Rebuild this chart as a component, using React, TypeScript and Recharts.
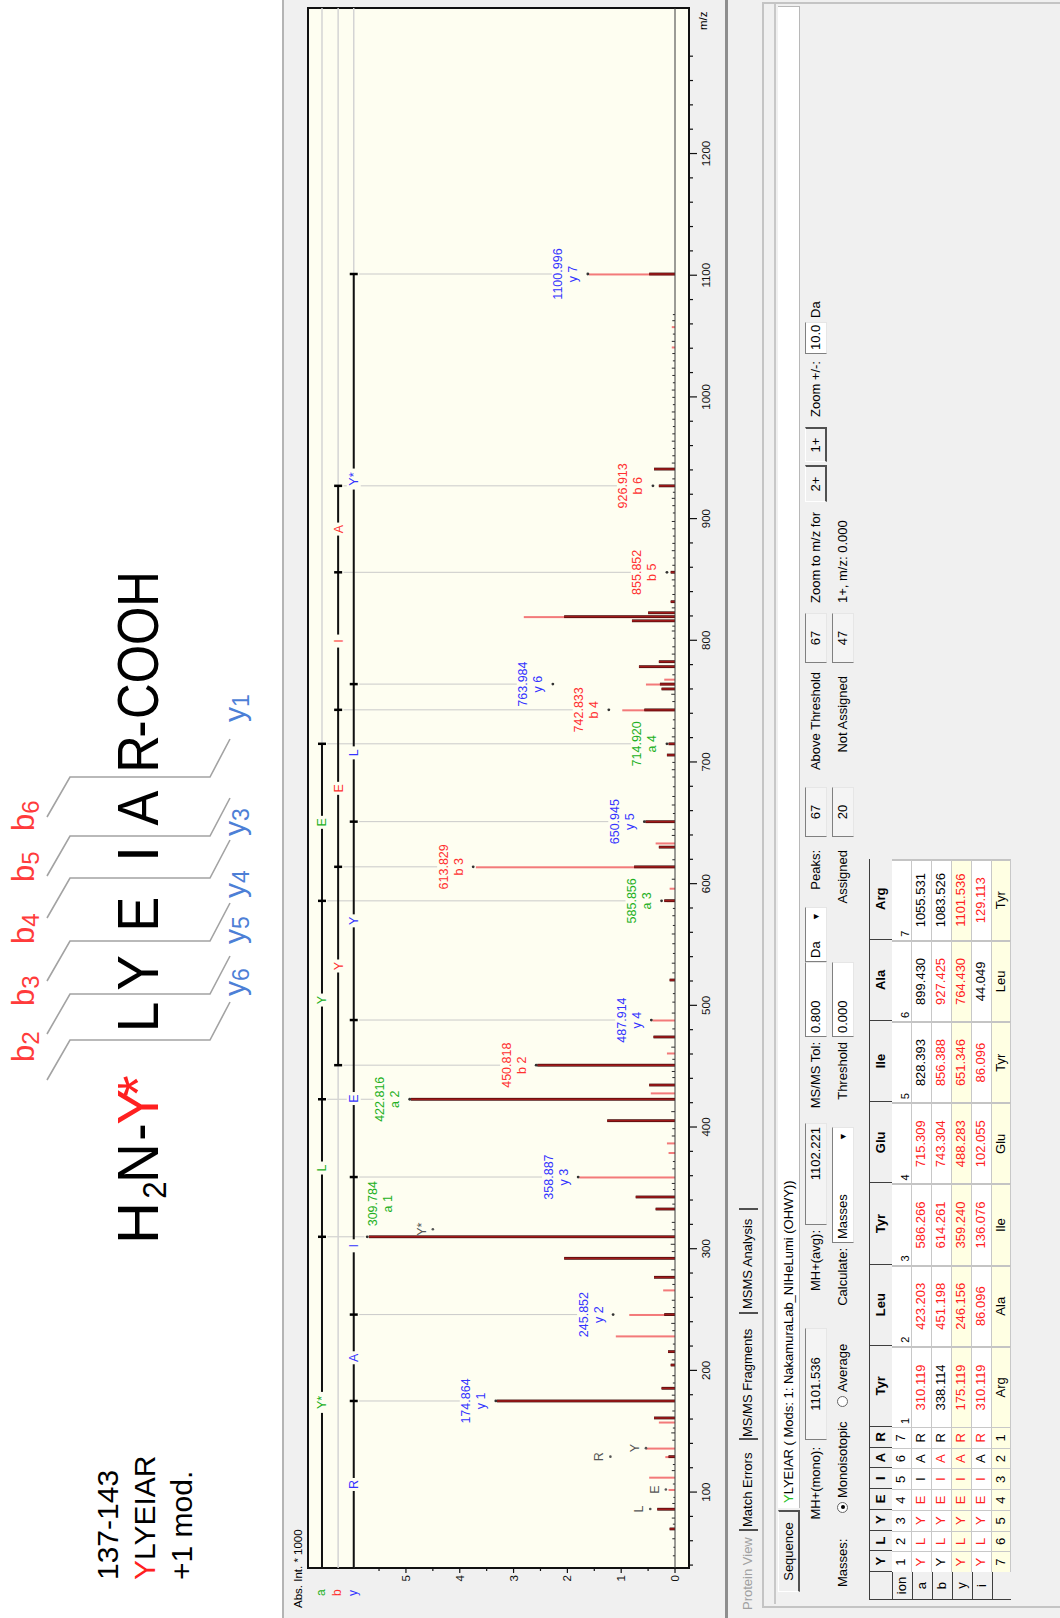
import React from 'react';
import { ComposedChart, Bar, Scatter, XAxis, YAxis, ReferenceLine } from 'recharts';

const FONT = '"Liberation Sans", Arial, sans-serif';
const PLOT_BG = '#fefef1';

// axes
const MZ_DOMAIN: [number, number] = [37.6, 1319.6];
const INT_DOMAIN: [number, number] = [-0.26, 6.82];
const mzMajorTicks = [100, 200, 300, 400, 500, 600, 700, 800, 900, 1000, 1100, 1200];
const mzMinorTicks = Array.from({ length: 64 }, (_, i) => 40 + i * 20).filter((v) => v % 100 !== 0);
const intMajorTicks = [0, 1, 2, 3, 4, 5];
const intMinorTicks = [0.5, 1.5, 2.5, 3.5, 4.5, 5.5];

// peaks [m/z, abs. int * 1000]
const darkPeaks: [number, number][] = [
  [69.7, 0.1], [85.9, 0.33], [129.1, 0.12], [160.9, 0.39], [174.864, 3.31], [185.3, 0.25],
  [204.4, 0.08], [215.4, 0.13], [245.9, 0.2], [276.5, 0.39], [292.1, 2.06], [309.8, 5.69],
  [332.6, 0.36], [342.5, 0.73], [405.2, 1.26], [422.8, 4.91], [434.5, 0.48], [450.8, 2.56],
  [474.0, 0.4], [520.8, 0.1], [586.0, 0.2], [613.8, 0.76], [630.0, 0.3], [650.9, 0.55],
  [705.7, 0.15], [714.9, 0.12], [742.8, 0.57], [760.0, 0.25], [764.0, 0.28], [778.3, 0.67],
  [782.4, 0.3], [816.0, 0.8], [819.4, 2.06], [822.6, 0.5], [831.7, 0.08], [855.9, 0.08],
  [926.9, 0.3], [940.7, 0.39], [1101.0, 0.48],
];
const lightPeaks: [number, number][] = [
  [102.1, 0.12], [112.2, 0.48], [129.1, 0.18], [136.1, 0.54], [157.5, 0.3], [228.3, 1.1],
  [245.9, 0.85], [266.1, 0.22], [358.9, 1.78], [379.0, 0.12], [386.9, 0.15], [428.0, 0.45],
  [460.8, 0.15], [487.9, 0.42], [586.0, 0.15], [596.2, 0.1], [613.8, 3.7], [633.4, 0.36],
  [742.8, 0.98], [764.0, 0.54], [768.0, 0.2], [819.4, 2.81], [1041.0, 0.06], [1057.7, 0.06],
  [1101.0, 1.6],
];
const noisePeaks: [number, number][] = [
  [48, 0.04], [55, 0.03], [62, 0.05], [74, 0.04], [79, 0.06], [91, 0.05], [96, 0.03], [107, 0.04],
  [118, 0.06], [123, 0.04], [143, 0.05], [149, 0.07], [153, 0.04], [167, 0.05], [180, 0.06], [190, 0.04],
  [196, 0.05], [209, 0.06], [222, 0.04], [233, 0.05], [239, 0.07], [252, 0.04], [258, 0.06], [271, 0.05],
  [283, 0.07], [298, 0.06], [304, 0.08], [316, 0.05], [322, 0.06], [337, 0.05], [349, 0.04], [354, 0.06],
  [366, 0.05], [372, 0.04], [393, 0.06], [399, 0.05], [413, 0.07], [441, 0.05], [446, 0.06], [456, 0.05],
  [466, 0.07], [481, 0.05], [494, 0.06], [503, 0.05], [510, 0.04], [527, 0.05], [535, 0.06], [543, 0.04],
  [551, 0.05], [559, 0.06], [566, 0.04], [574, 0.05], [580, 0.04], [604, 0.06], [620, 0.05], [640, 0.06],
  [645, 0.05], [658, 0.04], [665, 0.06], [672, 0.05], [680, 0.04], [688, 0.05], [694, 0.06], [700, 0.05],
  [721, 0.06], [728, 0.05], [735, 0.04], [750, 0.05], [756, 0.07], [772, 0.05], [789, 0.06], [795, 0.05],
  [802, 0.04], [808, 0.06], [812, 0.05], [827, 0.06], [838, 0.05], [845, 0.04], [850, 0.06], [862, 0.05],
  [868, 0.04], [874, 0.06], [880, 0.05], [886, 0.04], [892, 0.05], [898, 0.06], [905, 0.04], [911, 0.05],
  [917, 0.06], [922, 0.04], [933, 0.05], [946, 0.06], [952, 0.05], [958, 0.04], [964, 0.06], [970, 0.05],
  [976, 0.04], [982, 0.05], [988, 0.06], [994, 0.04], [1000, 0.05], [1006, 0.06], [1012, 0.04], [1018, 0.05],
  [1024, 0.06], [1030, 0.04], [1036, 0.05], [1046, 0.06], [1052, 0.04], [1063, 0.05], [1068, 0.04],
];

// assigned fragment ions: label anchor intensity
// (lx / ly: where a label sits when it is set beside its peak)
const ionLabels: { mz: number; ion: string; name: string; at: number; lx?: number; ly?: number }[] = [
  { mz: 174.864, ion: 'y', name: 'y 1', at: 3.33 },
  { mz: 245.852, ion: 'y', name: 'y 2', at: 1.15 },
  { mz: 309.784, ion: 'a', name: 'a 1', at: 5.72, lx: 337, ly: 5.07 },
  { mz: 358.887, ion: 'y', name: 'y 3', at: 1.8 },
  { mz: 422.816, ion: 'a', name: 'a 2', at: 4.93 },
  { mz: 450.818, ion: 'b', name: 'b 2', at: 2.58 },
  { mz: 487.914, ion: 'y', name: 'y 4', at: 0.44 },
  { mz: 585.856, ion: 'a', name: 'a 3', at: 0.25 },
  { mz: 613.829, ion: 'b', name: 'b 3', at: 3.75 },
  { mz: 650.945, ion: 'y', name: 'y 5', at: 0.57 },
  { mz: 714.92, ion: 'a', name: 'a 4', at: 0.15 },
  { mz: 742.833, ion: 'b', name: 'b 4', at: 1.23 },
  { mz: 763.984, ion: 'y', name: 'y 6', at: 2.27 },
  { mz: 855.852, ion: 'b', name: 'b 5', at: 0.15 },
  { mz: 926.913, ion: 'b', name: 'b 6', at: 0.41 },
  { mz: 1100.996, ion: 'y', name: 'y 7', at: 1.62 },
];
const immoniumLabels = [
  { mz: 86.1, text: 'L', at: 0.46 },
  { mz: 102.1, text: 'E', at: 0.17 },
  { mz: 129.1, text: 'R', at: 1.2 },
  { mz: 136.1, text: 'Y', at: 0.54 },
  { mz: 316.0, text: 'Y*', at: 4.5 },
];

// sequence ladders
const aLadder = [309.784, 422.816, 585.856, 714.92];
const aLadderResidues = ['Y*', 'L', 'Y', 'E'];
const bLadder = [450.818, 613.829, 742.833, 855.852, 926.913];
const bLadderResidues = ['Y', 'E', 'I', 'A'];
const yLadder = [174.864, 245.852, 358.887, 487.914, 650.945, 763.984, 1100.996];
const yLadderResidues = ['R', 'A', 'I', 'E', 'Y', 'L', 'Y*'];
const trackLevel: Record<string, number> = { a: 6.56, b: 6.26, y: 5.97 };
const ionColor: Record<string, string> = { a: '#22b022', b: '#ff3030', y: '#3434ff' };

// fragment table
const residues = ['Y', 'L', 'Y', 'E', 'I', 'A', 'R'];
const residueNames = ['Tyr', 'Leu', 'Tyr', 'Glu', 'Ile', 'Ala', 'Arg'];
const reverseNames = ['Arg', 'Ala', 'Ile', 'Glu', 'Tyr', 'Leu', 'Tyr'];
const aIons = ['310.119', '423.203', '586.266', '715.309', '828.393', '899.430', '1055.531'];
const bIons = ['338.114', '451.198', '614.261', '743.304', '856.388', '927.425', '1083.526'];
const yIons = ['175.119', '246.156', '359.240', '488.283', '651.346', '764.430', '1101.536'];
const iIons = ['310.119', '86.096', '136.076', '102.055', '86.096', '44.049', '129.113'];
const aHit = [1, 1, 1, 1, 0, 0, 0];
const bHit = [0, 1, 1, 1, 1, 1, 0];
const yHit = [1, 1, 1, 1, 1, 1, 1];
const iHit = [1, 1, 1, 1, 1, 0, 1];

const peakRows = (() => {
  const rows = new Map<number, any>();
  const put = (list: [number, number][], key: string) =>
    list.forEach(([mz, v]) => {
      const r = rows.get(mz) ?? { mz };
      r[key] = v;
      rows.set(mz, r);
    });
  put(darkPeaks, 'dark');
  put(lightPeaks, 'light');
  put(noisePeaks, 'noise');
  return [...rows.values()].sort((p, q) => p.mz - q.mz);
})();

const ladderPoints = (start: number | null, ticks: number[], level: number) => [
  ...(start !== null ? [{ mz: start, int: level, tick: false }] : []),
  ...ticks.map((mz) => ({ mz, int: level, tick: true })),
];
const ladderLetters = (start: number | null, ticks: number[], names: string[], level: number, color: string) => {
  const edges = start !== null ? [start, ...ticks] : ticks;
  return names.map((text, i) => ({ mz: (edges[i] + edges[i + 1]) / 2, int: level, text, color }));
};

const letterData = [
  ...ladderLetters(MZ_DOMAIN[0], aLadder, aLadderResidues, trackLevel.a, ionColor.a),
  ...ladderLetters(null, bLadder, bLadderResidues, trackLevel.b, ionColor.b),
  ...ladderLetters(MZ_DOMAIN[0], yLadder, yLadderResidues, trackLevel.y, ionColor.y),
];

const MzTick = (props: any) => {
  const { x, y, payload } = props;
  const v = payload.value;
  const major = v % 100 === 0;
  return (
    <g>
      <line x1={x} x2={x} y1={y} y2={y + (major ? 8 : 4)} stroke="#111" strokeWidth={1.2} />
      {major && (
        <text x={x} y={y + 21} textAnchor="middle" fontSize={11.5} fontFamily={FONT} fill="#111">
          {v}
        </text>
      )}
    </g>
  );
};

const IntTick = (props: any) => {
  const { x, y, payload } = props;
  const v = payload.value;
  const major = Number.isInteger(v);
  return (
    <g>
      <line x1={x - (major ? 5 : 3)} x2={x} y1={y} y2={y} stroke="#111" strokeWidth={1.2} />
      {major && (
        <text x={x - 7} y={y + 4} textAnchor="end" fontSize={11.5} fontFamily={FONT} fill="#111">
          {v}
        </text>
      )}
    </g>
  );
};

// peak sticks: fixed pixel widths, centred on the bar position from the scale
const stick = (w: number, fill: string, edge?: string) => (props: any) => {
  const { x, y, width, height } = props;
  if (![x, y, width, height].every(Number.isFinite) || height <= 0) return <g />;
  const cx = x + width / 2;
  return (
    <g>
      {edge && <rect x={cx - w / 2 - 0.6} y={y} width={w + 1.2} height={height} fill={edge} />}
      <rect x={cx - w / 2} y={y} width={w} height={height} fill={fill} />
    </g>
  );
};
const DarkStick = stick(1.6, '#a01a1a', '#3a0808');
const LightStick = stick(2, '#f37a7a');
const NoiseStick = stick(1, '#2a2a2a');

const NoShape = () => <g />;

const LadderTick = (props: any) => {
  const { cx, cy, payload } = props;
  if (!payload.tick) return <g />;
  return <line x1={cx} x2={cx} y1={cy - 4} y2={cy + 4} stroke="#000" strokeWidth={2.5} />;
};

const LadderLetter = (props: any) => {
  const { cx, cy, payload } = props;
  const w = payload.text.length * 8 + 5;
  return (
    <g>
      <rect x={cx - w / 2} y={cy - 7} width={w} height={14} fill={PLOT_BG} />
      <text x={cx} y={cy + 4.5} textAnchor="middle" fontSize={12.5} fontFamily={FONT} fill={payload.color}>
        {payload.text}
      </text>
    </g>
  );
};

const IonLabel = (props: any) => {
  const { cx, cy, payload } = props;
  const color = ionColor[payload.ion];
  return (
    <g fontFamily={FONT} fontSize={12.5} fill={color}>
      {payload.dot && <circle cx={cx} cy={cy} r={1.4} fill="#333" />}
      <text x={cx} y={cy - 25.5} textAnchor="middle">
        {payload.text}
      </text>
      <text x={cx} y={cy - 10.5} textAnchor="middle">
        {payload.name}
      </text>
    </g>
  );
};

const PeakDot = (props: any) => <circle cx={props.cx} cy={props.cy} r={1.4} fill="#333" />;

const ImmoniumLabel = (props: any) => {
  const { cx, cy, payload } = props;
  return (
    <g fontFamily={FONT} fontSize={12.5} fill="#555">
      <circle cx={cx} cy={cy} r={1.3} fill="#555" />
      <text x={cx} y={cy - 7} textAnchor="middle">
        {payload.text}
      </text>
    </g>
  );
};

const labelData = ionLabels.map((l) => ({
  mz: l.lx ?? l.mz,
  int: l.ly ?? l.at,
  ion: l.ion,
  name: l.name,
  text: l.mz.toFixed(3),
  dot: l.lx === undefined,
}));
const shiftedDots = ionLabels.filter((l) => l.lx !== undefined).map((l) => ({ mz: l.mz, int: l.at }));

const Spectrum = () => (
  <ComposedChart width={1618} height={450} data={peakRows} margin={{ top: 28, right: 8, bottom: 11, left: 10 }}>
    <XAxis xAxisId="light" dataKey="mz" type="number" domain={MZ_DOMAIN} allowDataOverflow hide height={0} />
    <XAxis xAxisId="noise" dataKey="mz" type="number" domain={MZ_DOMAIN} allowDataOverflow hide height={0} />
    <XAxis
      xAxisId="mz"
      dataKey="mz"
      type="number"
      domain={MZ_DOMAIN}
      allowDataOverflow
      ticks={[...mzMinorTicks, ...mzMajorTicks].sort((p, q) => p - q)}
      interval={0}
      tick={MzTick}
      tickLine={false}
      axisLine={false}
      tickSize={0}
      tickMargin={0}
      height={30}
    />
    <YAxis
      type="number"
      domain={INT_DOMAIN}
      allowDataOverflow
      ticks={[...intMajorTicks, ...intMinorTicks].sort((p, q) => p - q)}
      interval={0}
      tick={IntTick}
      tickLine={false}
      axisLine={false}
      tickSize={0}
      tickMargin={0}
      width={40}
    />
    <ReferenceLine xAxisId="mz" y={0} stroke="#3a3a3a" strokeWidth={1} />
    <Bar xAxisId="noise" dataKey="noise" barSize={3} shape={NoiseStick} isAnimationActive={false} />
    <Bar xAxisId="light" dataKey="light" barSize={3} shape={LightStick} isAnimationActive={false} />
    <Bar xAxisId="mz" dataKey="dark" barSize={3} shape={DarkStick} isAnimationActive={false} />

    {(['a', 'b', 'y'] as const).map((k) => (
      <Scatter
        key={`guide-${k}`}
        xAxisId="mz"
        dataKey="int"
        data={[
          { mz: MZ_DOMAIN[0], int: trackLevel[k] },
          { mz: MZ_DOMAIN[1], int: trackLevel[k] },
        ]}
        line={{ stroke: '#d4d4d4', strokeWidth: 1.5 }}
        shape={NoShape}
        isAnimationActive={false}
      />
    ))}

    {ionLabels.map((l) => (
      <ReferenceLine
        key={`conn-${l.name}`}
        xAxisId="mz"
        segment={[
          { x: l.mz, y: trackLevel[l.ion] - 0.1 },
          { x: l.mz, y: l.lx === undefined ? l.at + 0.67 : l.at + 0.05 },
        ]}
        stroke="#cacaca"
        strokeWidth={1}
        ifOverflow="visible"
      />
    ))}

    <Scatter xAxisId="mz" dataKey="int" data={ladderPoints(MZ_DOMAIN[0], aLadder, trackLevel.a)} line={{ stroke: '#111', strokeWidth: 2 }} shape={LadderTick} isAnimationActive={false} />
    <Scatter xAxisId="mz" dataKey="int" data={ladderPoints(null, bLadder, trackLevel.b)} line={{ stroke: '#111', strokeWidth: 2 }} shape={LadderTick} isAnimationActive={false} />
    <Scatter xAxisId="mz" dataKey="int" data={ladderPoints(MZ_DOMAIN[0], yLadder, trackLevel.y)} line={{ stroke: '#111', strokeWidth: 2 }} shape={LadderTick} isAnimationActive={false} />
    <Scatter xAxisId="mz" dataKey="int" data={letterData} shape={LadderLetter} isAnimationActive={false} />
    <Scatter xAxisId="mz" dataKey="int" data={labelData} shape={IonLabel} isAnimationActive={false} />
    <Scatter xAxisId="mz" dataKey="int" data={shiftedDots} shape={PeakDot} isAnimationActive={false} />
    <Scatter xAxisId="mz" dataKey="int" data={immoniumLabels.map((l) => ({ ...l, int: l.at }))} shape={ImmoniumLabel} isAnimationActive={false} />
  </ComposedChart>
);

// peptide fragmentation diagram (landscape coordinates)
const seqPieces = [
  { t: 'H', cx: 395, sx: 1 },
  { t: '2', cx: 428, sx: 0.95, sub: true },
  { t: 'N', cx: 455, sx: 0.95 },
  { t: '-', cx: 486, sx: 0.9 },
  { t: 'Y', cx: 511, sx: 0.92, red: true },
  { t: '*', cx: 532, sx: 0.95, red: true },
  { t: 'L', cx: 601, sx: 0.95 },
  { t: 'Y', cx: 645, sx: 0.92 },
  { t: 'E', cx: 704, sx: 0.9 },
  { t: 'I', cx: 764, sx: 1 },
  { t: 'A', cx: 810, sx: 0.9 },
  { t: 'R', cx: 864, sx: 0.9 },
  { t: '-', cx: 889, sx: 0.9 },
  { t: 'COOH', cx: 973, sx: 0.85 },
];
const cleavageX = [578, 624, 677, 740, 782, 841];
const bDiagram = [
  { n: 2, x: 556 },
  { n: 3, x: 612 },
  { n: 4, x: 674 },
  { n: 5, x: 736 },
  { n: 6, x: 787 },
];
const yDiagram = [
  { n: 6, x: 622 },
  { n: 5, x: 674 },
  { n: 4, x: 720 },
  { n: 3, x: 782 },
  { n: 1, x: 896 },
];

const Peptide = () => (
  <svg width={1100} height={270} style={{ position: 'absolute', left: 0, top: 0 }} fontFamily={FONT}>
    {cleavageX.map((x) => (
      <path key={x} d={`M${x - 40},47 L${x},70 L${x},210 L${x + 38},230`} fill="none" stroke="#a3a3a3" strokeWidth={1.6} />
    ))}
    {seqPieces.map((p, i) => (
      <text
        key={i}
        transform={`translate(${p.cx},${p.sub ? 166 : 158}) scale(${p.sx},1)`}
        textAnchor="middle"
        fontSize={p.sub ? 33 : 58}
        fill={p.red ? '#ff2020' : '#000'}
      >
        {p.t}
      </text>
    ))}
    {bDiagram.map((b) => (
      <text key={`b${b.n}`} x={b.x} y={34} fontSize={31} fill="#ff3b3b">
        b<tspan fontSize={24} dy={5}>{b.n}</tspan>
      </text>
    ))}
    {yDiagram.map((y) => (
      <text key={`y${y.n}`} x={y.x} y={245} fontSize={30} fill="#4d7fd6">
        y<tspan fontSize={23} dy={4}>{y.n}</tspan>
      </text>
    ))}
  </svg>
);

const Lbl = ({ x, w, y, text, align = 'left', color = '#000' }: any) => (
  <div style={{ position: 'absolute', left: x, top: y, width: w, height: 22, lineHeight: '22px', fontSize: 13, textAlign: align, color, whiteSpace: 'nowrap' }}>
    {text}
  </div>
);
const Field = ({ x, w, y, text, align = 'center', bg = '#fff', arrow = false }: any) => (
  <div
    style={{
      position: 'absolute', left: x, top: y, width: w, height: 22, boxSizing: 'border-box', background: bg,
      borderTop: '1px solid #808080', borderLeft: '1px solid #808080', borderRight: '1px solid #e6e6e6', borderBottom: '1px solid #e6e6e6',
      fontSize: 13, lineHeight: '20px', textAlign: align, padding: '0 3px', whiteSpace: 'nowrap', overflow: 'hidden',
    }}
  >
    {text}
    {arrow && <span style={{ position: 'absolute', right: 4, top: 0, fontSize: 9 }}>▼</span>}
  </div>
);
const Btn = ({ x, w, y, text, h = 22 }: any) => (
  <div
    style={{
      position: 'absolute', left: x, top: y, width: w, height: h, boxSizing: 'border-box', background: '#f0f0f0',
      borderTop: '1px solid #fff', borderLeft: '1px solid #fff', borderRight: '2px solid #505050', borderBottom: '2px solid #505050',
      fontSize: 13, lineHeight: `${h - 3}px`, textAlign: 'center', whiteSpace: 'nowrap',
    }}
  >
    {text}
  </div>
);
const Radio = ({ x, y, on }: any) => (
  <div style={{ position: 'absolute', left: x, top: y + 5, width: 11, height: 11, borderRadius: 6, boxSizing: 'border-box', border: '1px solid #666', background: '#fff' }}>
    {on && <div style={{ position: 'absolute', left: 2.5, top: 2.5, width: 4, height: 4, borderRadius: 2, background: '#000' }} />}
  </div>
);

const colEdges = [18, 46, 66.7, 87.4, 108.1, 128.9, 149.6, 170.3, 191, 272.2, 353.4, 434.6, 515.8, 597, 678.2, 759.4];
const rowEdges = [869, 892, 912, 932, 952, 972, 992, 1011];
const rowHeads = ['', 'ion', 'a', 'b', 'y', 'i', ''];
const ionValues = [aIons, bIons, yIons, iIons];
const ionHits = [aHit, bHit, yHit, iHit];
const RED = '#ff2020';

const FragmentTable = () => {
  const cells: React.ReactNode[] = [];
  for (let r = 0; r < 7; r++) {
    for (let c = 0; c < 15; c++) {
      const x = colEdges[c];
      const y = rowEdges[r];
      const w = colEdges[c + 1] - x;
      const h = rowEdges[r + 1] - y;
      const boxed = c === 0 || r === 0;
      const yellow = r === 4 || r === 6;
      let content: React.ReactNode = null;
      let color = '#000';
      let bold = false;
      if (c === 0) content = rowHeads[r];
      else if (c <= 7) {
        const k = c - 1;
        if (r === 0) { content = residues[k]; bold = true; }
        else if (r === 1) content = k + 1;
        else if (r === 6) content = 7 - k;
        else { content = residues[k]; color = ionHits[r - 2][k] ? RED : '#000'; }
      } else {
        const k = c - 8;
        if (r === 0) { content = residueNames[k]; bold = true; }
        else if (r === 1) content = null;
        else if (r === 6) content = reverseNames[k];
        else { content = ionValues[r - 2][k]; color = ionHits[r - 2][k] ? RED : '#000'; }
      }
      cells.push(
        <div
          key={`${r}-${c}`}
          style={{
            position: 'absolute', left: x, top: y, width: w, height: h, boxSizing: 'border-box',
            background: boxed ? '#f0f0f0' : yellow ? '#ffffe3' : '#fff',
            border: boxed ? '1.5px solid #3e3e3e' : undefined,
            borderRight: boxed ? undefined : c >= 8 ? '2px solid #c4c4c4' : '1px solid #c8c8c8',
            borderBottom: boxed ? undefined : '1px solid #c8c8c8',
            fontSize: 13, lineHeight: `${h - 2}px`, textAlign: 'center', color, fontWeight: bold ? 'bold' : 'normal', whiteSpace: 'nowrap',
          }}
        >
          {content}
          {r === 1 && c >= 8 && (
            <span style={{ position: 'absolute', left: 3, bottom: 0, fontSize: 11, lineHeight: '12px' }}>{c - 7}</span>
          )}
        </div>
      );
    }
  }
  return <>{cells}</>;
};

const tabs = [
  { t: 'Protein View', x: 8, w: 76, color: '#a0a0a0' },
  { t: 'Match Errors', x: 91, w: 84, color: '#000' },
  { t: 'MS/MS Fragments', x: 181, w: 120, color: '#000' },
  { t: 'MSMS Analysis', x: 309, w: 96, color: '#000' },
];
const tabSeparators = [87, 178, 304, 408];

const RightPanel = () => (
  <>
    <div style={{ position: 'absolute', left: 0, top: 728, width: 1618, height: 332, background: '#f0f0f0' }} />
    {tabs.map((t) => (
      <Lbl key={t.t} x={t.x} w={t.w} y={737} text={t.t} color={t.color} />
    ))}
    {tabSeparators.map((x) => (
      <div key={x} style={{ position: 'absolute', left: x, top: 739, width: 2, height: 19, background: '#505050' }} />
    ))}
    <div style={{ position: 'absolute', left: 10, top: 762, width: 1606, height: 300, boxSizing: 'border-box', borderTop: '2px solid #c4c4c4', borderLeft: '2px solid #c4c4c4', borderRight: '2px solid #c4c4c4' }} />
    <div style={{ position: 'absolute', left: 14, top: 774, width: 1600, height: 2, background: '#c8c8c8' }} />
    <div style={{ position: 'absolute', left: 110, top: 778, width: 1502, height: 22, boxSizing: 'border-box', background: '#fff', borderBottom: '1px solid #b8b8b8', borderRight: '1px solid #b8b8b8', fontSize: 13, lineHeight: '22px', paddingLeft: 5, whiteSpace: 'nowrap' }}>
      <span style={{ color: '#22c022' }}>Y</span>LYEIAR ( Mods: 1: NakamuraLab_NIHeLumi (OHWY))
    </div>
    <Btn x={26} w={82} y={778} text="Sequence" />

    <Lbl x={60} w={111} y={805} text="MH+(mono):" align="right" />
    <Field x={178} w={112} y={805} text="1101.536" bg="#f4f4f4" />
    <Lbl x={300} w={88} y={805} text="MH+(avg):" align="right" />
    <Field x={393} w={102} y={805} text="1102.221" align="right" bg="#f4f4f4" />
    <Lbl x={500} w={76} y={805} text="MS/MS Tol:" align="right" />
    <Field x={581} w={75} y={805} text="0.800" align="left" />
    <Field x={656} w={55} y={805} text="Da" align="left" arrow />
    <Lbl x={720} w={48} y={805} text="Peaks:" align="right" />
    <Field x={781} w={50} y={805} text="67" bg="#f4f4f4" />
    <Lbl x={836} w={110} y={805} text="Above Threshold" align="right" />
    <Field x={955} w={50} y={805} text="67" bg="#f4f4f4" />
    <Lbl x={1015} w={100} y={805} text="Zoom to m/z for" />
    <Btn x={1116} w={37} y={805} text="2+" />
    <Btn x={1156} w={35} y={805} text="1+" />
    <Lbl x={1201} w={60} y={805} text="Zoom +/-:" />
    <Field x={1264} w={32} y={805} text="10.0" align="left" />
    <Lbl x={1300} w={25} y={805} text="Da" />

    <Lbl x={31} w={50} y={832} text="Masses:" />
    <Radio x={105} y={832} on />
    <Lbl x={120} w={90} y={832} text="Monoisotopic" />
    <Radio x={211} y={832} />
    <Lbl x={226} w={70} y={832} text="Average" />
    <Lbl x={310} w={60} y={832} text="Calculate:" align="right" />
    <Field x={375} w={116} y={832} text="Masses" align="left" arrow />
    <Lbl x={500} w={76} y={832} text="Threshold" align="right" />
    <Field x={581} w={75} y={832} text="0.000" align="left" />
    <Lbl x={700} w={68} y={832} text="Assigned" align="right" />
    <Field x={781} w={50} y={832} text="20" bg="#f4f4f4" />
    <Lbl x={836} w={106} y={832} text="Not Assigned" align="right" />
    <Field x={955} w={50} y={832} text="47" bg="#f4f4f4" />
    <Lbl x={1015} w={100} y={832} text="1+, m/z: 0.000" />

    <FragmentTable />
  </>
);

export default function App() {
  return (
    <div style={{ position: 'absolute', left: 0, top: 0, width: 1060, height: 1618, overflow: 'hidden', background: '#fff' }}>
      <div
        style={{
          position: 'absolute', left: 0, top: 0, width: 1618, height: 1060, transformOrigin: '0 0',
          transform: 'translate(0px, 1618px) rotate(-90deg)', fontFamily: FONT, background: '#fff',
        }}
      >
        <div style={{ position: 'absolute', left: 38, top: 89, fontSize: 30, lineHeight: '37px', color: '#000', whiteSpace: 'nowrap' }}>
          <div>137-143</div>
          <div>
            <span style={{ color: '#ff2020' }}>Y</span>LYEIAR
          </div>
          <div>+1 mod.</div>
        </div>
        <Peptide />

        <div style={{ position: 'absolute', left: 0, top: 282, width: 1618, height: 446, boxSizing: 'border-box', background: '#f0f0f0', borderTop: '2px solid #b4b4b4', borderBottom: '3px solid #8e8e8e' }} />
        <div style={{ position: 'absolute', left: 49, top: 307, width: 1562, height: 383, boxSizing: 'border-box', border: '2px solid #111', background: PLOT_BG }} />
        <div style={{ position: 'absolute', left: 0, top: 280 }}>
          <Spectrum />
        </div>
        <div style={{ position: 'absolute', left: 10, top: 292, fontSize: 11.5, whiteSpace: 'nowrap' }}>Abs. Int. * 1000</div>
        {(['a', 'b', 'y'] as const).map((k) => (
          <div key={k} style={{ position: 'absolute', left: 22, top: 280 + 28 + 381 * (INT_DOMAIN[1] - trackLevel[k]) / (INT_DOMAIN[1] - INT_DOMAIN[0]) - 8, fontSize: 12, color: ionColor[k] }}>
            {k}
          </div>
        ))}
        <div style={{ position: 'absolute', left: 1588, top: 697, fontSize: 11.5 }}>m/z</div>

        <RightPanel />
      </div>
    </div>
  );
}
